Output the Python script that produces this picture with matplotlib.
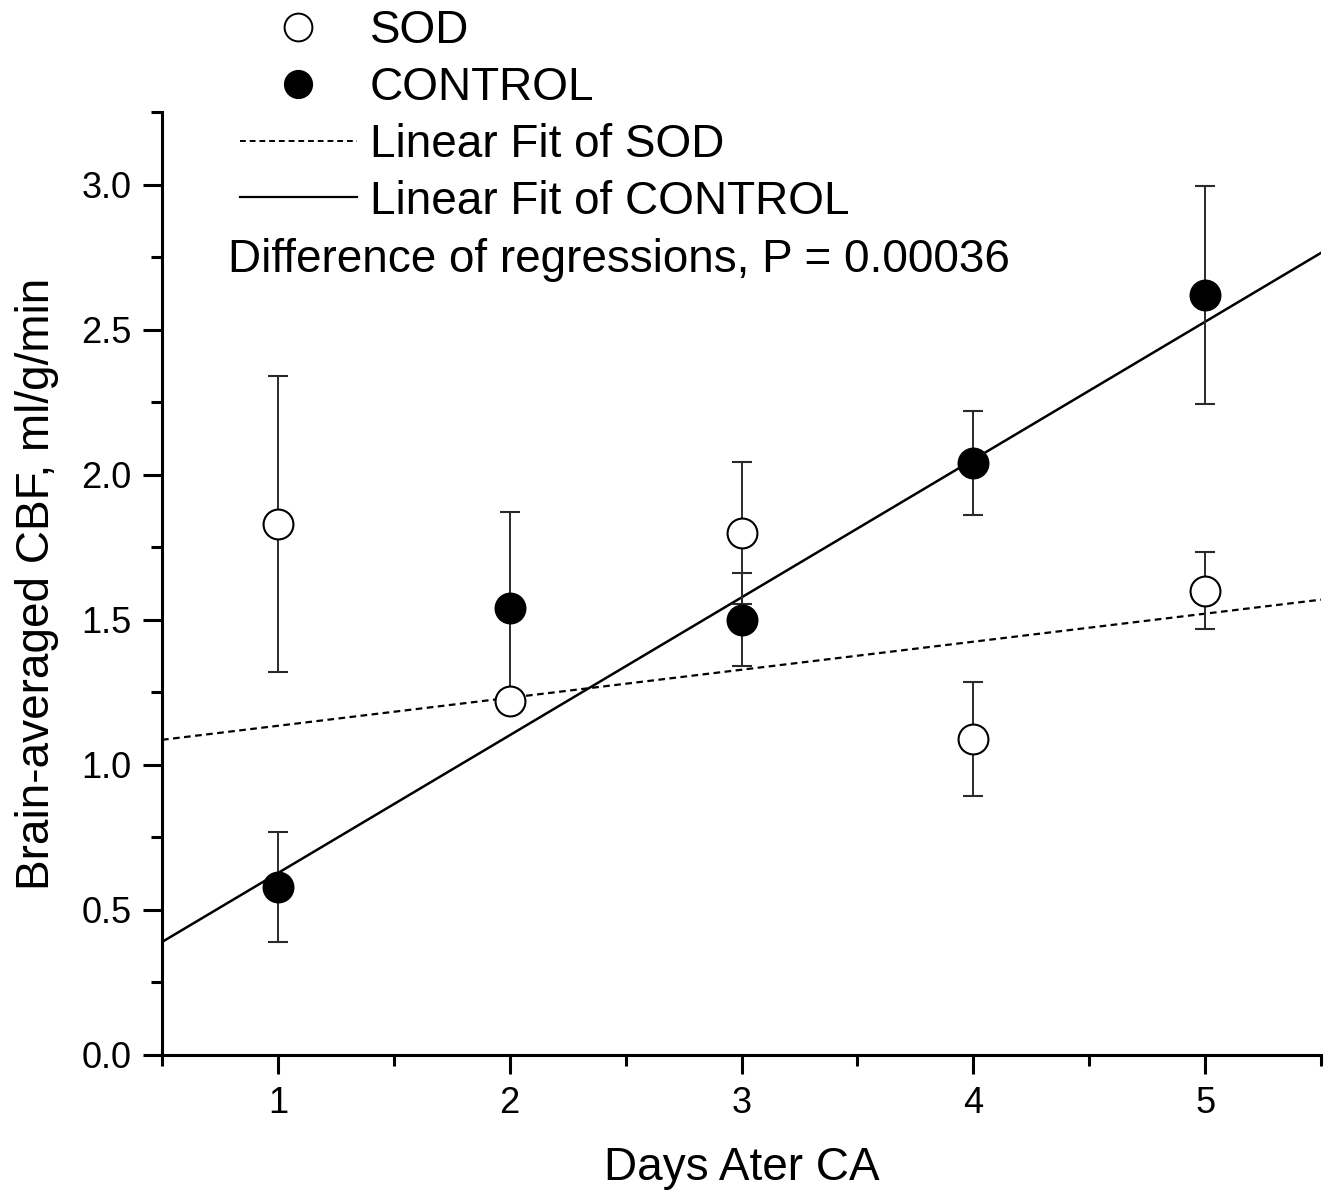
import numpy as np
import matplotlib
matplotlib.use("Agg")
import matplotlib.pyplot as plt
from matplotlib.lines import Line2D
from matplotlib.ticker import MultipleLocator, FormatStrFormatter

plt.rcParams['font.family'] = ['Liberation Sans', 'DejaVu Sans']

days = [1, 2, 3, 4, 5]

sod_mean = [1.83, 1.22, 1.80, 1.09, 1.60]
sod_err = [0.51, 0.02, 0.245, 0.197, 0.133]

ctrl_mean = [0.58, 1.54, 1.50, 2.04, 2.62]
ctrl_err = [0.19, 0.33, 0.16, 0.18, 0.376]

# fit lines (intercept, slope)
sod_fit = (1.038, 0.0966)
ctrl_fit = (0.152, 0.475)

p_value = "0.00036"

fig = plt.figure(figsize=(13.33, 11.98), dpi=100)
ax = fig.add_axes([162/1333, 1 - 1055/1198, (1321 - 162)/1333, (1055 - 112)/1198])

xs = np.array([0.5, 5.5])
ax.plot(xs, sod_fit[0] + sod_fit[1]*xs, color='black', lw=1.6, ls=(0, (3, 2)), zorder=2)
ax.plot(xs, ctrl_fit[0] + ctrl_fit[1]*xs, color='black', lw=1.8, zorder=2)

ax.errorbar(days, sod_mean, yerr=sod_err, fmt='o', ms=21.5, mfc='white', mec='black',
            mew=1.5, ecolor='#2a2a2a', elinewidth=1.4, capsize=7.5, capthick=1.4, zorder=3)
ax.errorbar(days, ctrl_mean, yerr=ctrl_err, fmt='o', ms=21.5, mfc='black', mec='black',
            mew=1.5, ecolor='#2a2a2a', elinewidth=1.4, capsize=7.5, capthick=1.4, zorder=3)

ax.set_xlim(0.5, 5.5)
ax.set_ylim(0, 3.25)
ax.xaxis.set_major_locator(MultipleLocator(1))
ax.xaxis.set_minor_locator(MultipleLocator(0.5))
ax.yaxis.set_major_locator(MultipleLocator(0.5))
ax.yaxis.set_minor_locator(MultipleLocator(0.25))
ax.yaxis.set_major_formatter(FormatStrFormatter('%.1f'))

for s in ['top', 'right']:
    ax.spines[s].set_visible(False)
for s in ['left', 'bottom']:
    ax.spines[s].set_linewidth(2.2)

ax.tick_params(which='major', direction='out', length=14, width=2.2, labelsize=26, pad=8)
ax.tick_params(which='minor', direction='out', length=8, width=2.2)

ax.set_xlabel("Days Ater CA", fontsize=33, labelpad=18)
ax.set_ylabel("Brain-averaged CBF, ml/g/min", fontsize=33, labelpad=16)

handles = [
    Line2D([], [], ls='none', marker='o', ms=20, mfc='white', mec='black', mew=1.4),
    Line2D([], [], ls='none', marker='o', ms=20, mfc='black', mec='black'),
    Line2D([], [], color='black', lw=1.4, ls=(0, (3, 2))),
    Line2D([], [], color='black', lw=1.6),
]
labels = ["SOD", "CONTROL", "Linear Fit of SOD", "Linear Fit of CONTROL"]
fig.legend(handles, labels, loc='upper left', bbox_to_anchor=(240/1333, 1 - 9/1198),
           frameon=False, fontsize=33, handlelength=2.55, handletextpad=0.28,
           labelspacing=0.28, borderpad=0, borderaxespad=0)

fig.text(228/1333, 1 - 260/1198, "Difference of regressions, P = " + p_value,
         fontsize=33, va='center', ha='left')

fig.savefig("out.png", dpi=100)
